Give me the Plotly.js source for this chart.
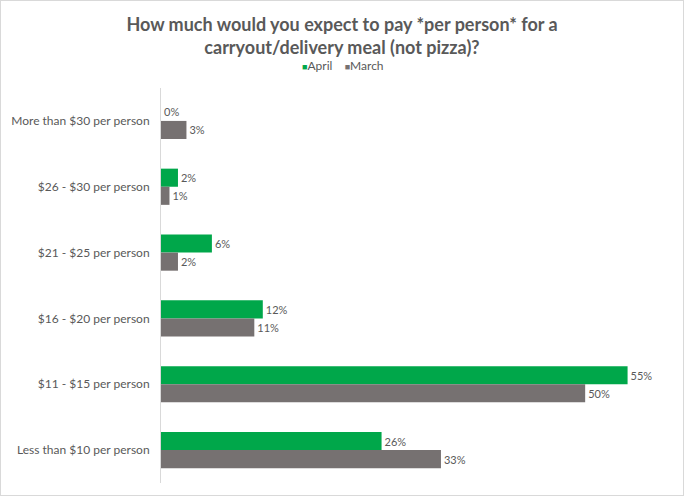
<!DOCTYPE html>
<html>
<head>
<meta charset="utf-8">
<script src="https://cdn.plot.ly/plotly-3.0.1.min.js"></script>
<style>
  body { margin: 0; background: #fff; }
  #chart { width: 684px; height: 496px; box-sizing: border-box; border: 1px solid #d9d9d9; }
</style>
</head>
<body>
<div id="chart"></div>
<script>
// categories listed top to bottom as in the picture
var categories = [
  "More than $30 per person",
  "$26 - $30 per person",
  "$21 - $25 per person",
  "$16 - $20 per person",
  "$11 - $15 per person",
  "Less than $10 per person"
];
var april = [0, 2, 6, 12, 55, 26];
var march = [3, 1, 2, 11, 50, 33];
var seriesNames = ["April", "March"];
var seriesColors = ["#00a74a", "#767171"];

var labelFont = { family: "Lato, 'Open Sans', sans-serif", size: 11, color: "#595959" };

function barTrace(name, values, color) {
  return {
    type: "bar", orientation: "h", name: name,
    y: categories, x: values,
    marker: { color: color },
    text: values.map(function (v) { return v + "%"; }),
    textposition: "outside", textfont: labelFont, cliponaxis: false,
    hoverinfo: "none"
  };
}

var data = [
  barTrace(seriesNames[0], april, seriesColors[0]),
  barTrace(seriesNames[1], march, seriesColors[1])
];

// compact legend like the original: small squares right next to the names
var legendText = seriesNames.map(function (n, i) {
  return "<span style='color:" + seriesColors[i] + ";font-size:9px'>■</span>" + n;
}).join("&nbsp;&nbsp;&nbsp;&nbsp;");

var plotH = 494 - 87 - 12;

var layout = {
  width: 682,
  height: 494,
  margin: { l: 160, r: 13, t: 87, b: 12 },
  paper_bgcolor: "#fff",
  plot_bgcolor: "#fff",
  font: { family: "Lato, 'Open Sans', sans-serif", color: "#595959" },
  title: {
    text: "<b>How much would you expect to pay *per person* for a<br>carryout/delivery meal (not pizza)?</b>",
    font: { size: 18, color: "#595959" },
    x: 0.5, xanchor: "center",
    y: 0.94, yanchor: "middle", yref: "container"
  },
  barmode: "group",
  bargap: 0.45,
  bargroupgap: 0,
  showlegend: false,
  annotations: [{
    text: legendText,
    xref: "paper", yref: "paper",
    x: (342 - 160) / 509, xanchor: "center",
    y: (494 - 12 - 65) / plotH, yanchor: "middle",
    showarrow: false,
    font: { size: 12, color: "#595959" }
  }],
  xaxis: {
    range: [0, 60],
    showgrid: false, zeroline: false, showticklabels: false, ticks: ""
  },
  yaxis: {
    autorange: "reversed",
    showgrid: false, zeroline: false,
    showline: true, linecolor: "#d9d9d9", linewidth: 1,
    ticks: "", ticklabelstandoff: 8,
    tickfont: { size: 12, color: "#595959" }
  }
};

Plotly.newPlot("chart", data, layout, { displayModeBar: false, staticPlot: true });
</script>
</body>
</html>
